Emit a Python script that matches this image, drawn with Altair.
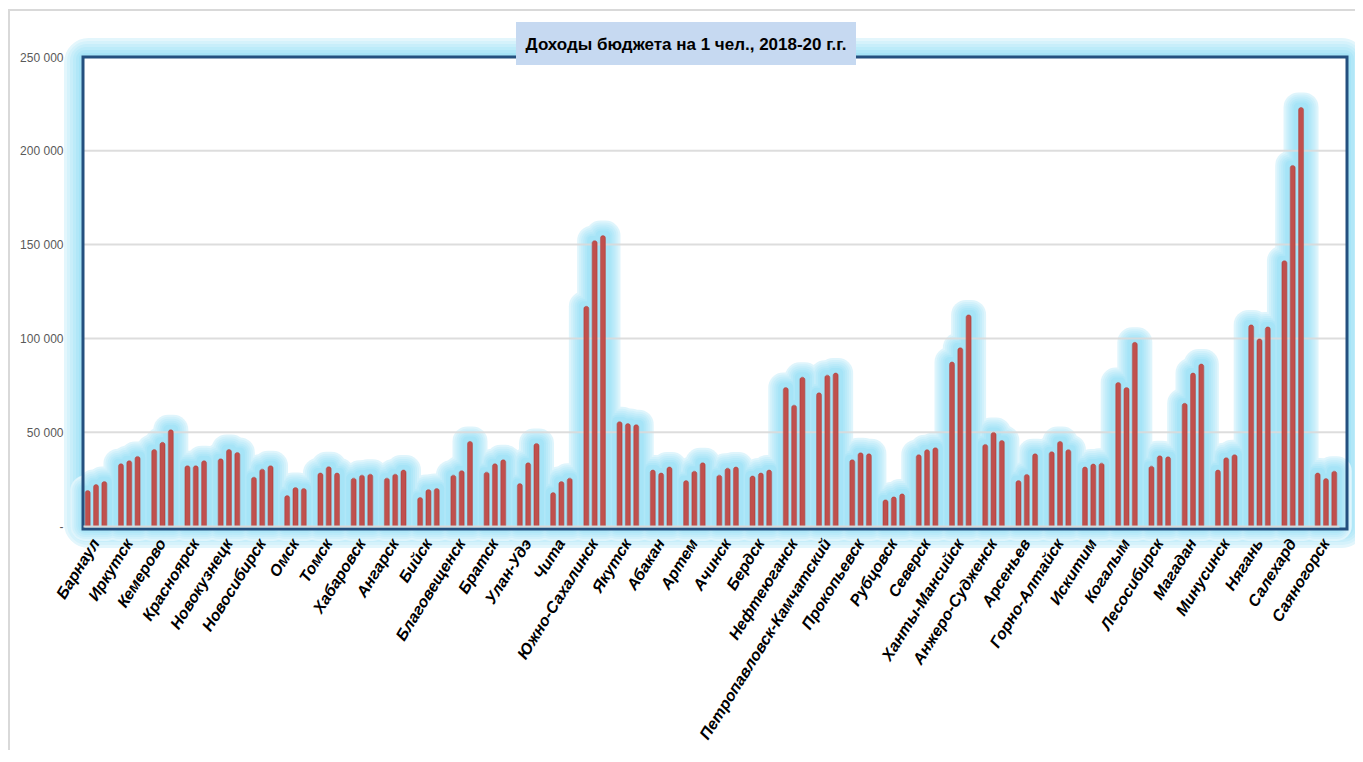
import altair as alt
import pandas as pd

cities = ["Барнаул", "Иркутск", "Кемерово", "Красноярск", "Новокузнецк", "Новосибирск",
          "Омск", "Томск", "Хабаровск", "Ангарск", "Бийск", "Благовещенск", "Братск",
          "Улан-Удэ", "Чита", "Южно-Сахалинск", "Якутск", "Абакан", "Артем", "Ачинск",
          "Бердск", "Нефтеюганск", "Петропавловск-Камчатский", "Прокопьевск", "Рубцовск",
          "Северск", "Ханты-Мансийск", "Анжеро-Судженск", "Арсеньев", "Горно-Алтайск",
          "Искитим", "Когалым", "Лесосибирск", "Магадан", "Минусинск", "Нягань",
          "Салехард", "Саяногорск"]
years = ["2018", "2019", "2020"]
v2018 = [18900, 33200, 40800, 32100, 35800, 26000, 16200, 28200, 25500, 25500, 15200,
         27100, 28700, 22600, 17800, 117100, 55600, 29800, 24200, 27100, 26600, 73800,
         71000, 35300, 13900, 38000, 87400, 43500, 24200, 39600, 31400, 76500, 31900,
         65400, 29800, 107200, 141400, 28200]
v2019 = [22100, 34800, 44600, 32100, 40800, 30300, 20500, 31600, 27100, 27600, 19400,
         29500, 33200, 33700, 23700, 152100, 54600, 28200, 29200, 30800, 28200, 64400,
         80400, 39000, 15500, 40700, 95000, 49900, 27500, 45100, 33000, 73800, 37400,
         81500, 36400, 99700, 192200, 25300]
v2020 = [23700, 37100, 51300, 34800, 39200, 32100, 20000, 28200, 27600, 29800, 20000,
         45100, 35300, 44000, 25500, 154800, 54000, 31400, 33700, 31400, 29800, 79300,
         81500, 38500, 17100, 41700, 112500, 45600, 38500, 40700, 33500, 97900, 36900,
         86300, 38000, 106100, 223100, 29200]
y_ticks = [0, 50000, 100000, 150000, 200000, 250000]
grid_values = [50000, 100000, 150000, 200000]
title_text = "Доходы бюджета на 1 чел., 2018-20 г.г."

rows = []
for i, c in enumerate(cities):
    for yr, arr in zip(years, [v2018, v2019, v2020]):
        rows.append({"city": c, "year": yr, "value": arr[i]})
df = pd.DataFrame(rows)
one = pd.DataFrame({"k": [0]})
grid_df = pd.DataFrame({"value": grid_values})

W, H = 1264, 469
FONT = "Liberation Sans"


def mix(t):
    # t=0 -> near white, t=1 -> saturated glow blue
    a = (246, 252, 254)
    b = (166, 228, 247)
    return "#%02X%02X%02X" % tuple(int(round(a[i] + (b[i] - a[i]) * t)) for i in range(3))


x_enc = alt.X("city:N", sort=cities,
              scale=alt.Scale(range=[0, 1256], paddingInner=0.25, paddingOuter=0.017),
              axis=alt.Axis(title=None, labelAngle=-58, labelFont=FONT, labelFontSize=16,
                            labelFontWeight="bold", labelFontStyle="italic",
                            labelColor="#000000", ticks=False, domainColor="#D9D9D9",
                            domainWidth=2, labelPadding=14, labelOverlap=False,
                            labelLimit=400, zindex=1))
xo_enc = alt.XOffset("year:N", scale=alt.Scale(paddingInner=0.4, paddingOuter=0.2))
y_enc = alt.Y("value:Q", scale=alt.Scale(domain=[0, 250000], nice=False),
              axis=alt.Axis(title=None, values=y_ticks, grid=False, domain=False,
                            ticks=False, labelPadding=20, labelFont=FONT,
                            labelFontSize=12, labelColor="#595959", zindex=1,
                            labelExpr="datum.value == 0 ? '-' : replace(format(datum.value, ','), ',', ' ')"))

layers = []

# frame glow (outside the plot frame), soft gradient
frame_steps = [19, 16, 13, 10, 7, 4]
for j, k in enumerate(frame_steps):
    t = (j + 1) / len(frame_steps)
    col = mix(t ** 0.8)
    layers.append(
        alt.Chart(one).mark_rect(fill="transparent", stroke=col, strokeWidth=k,
                                 cornerRadius=k * 0.8).encode(
            x=alt.value(-k / 2), x2=alt.value(W + k / 2),
            y=alt.value(-k / 2), y2=alt.value(H + 3 + k / 2))
    )

base = alt.Chart(df).encode(x=x_enc, xOffset=xo_enc, y=y_enc)

# soft glow around bars
bar_steps = [30, 26, 22, 18, 14, 10]
for j, sw in enumerate(bar_steps):
    t = (j + 1) / len(bar_steps)
    col = mix(t ** 0.7)
    layers.append(base.mark_bar(color=col, stroke=col, strokeWidth=sw,
                                strokeJoin="round"))

# gridlines
layers.append(
    alt.Chart(grid_df).mark_rule(color="#D9D9D9", strokeWidth=2, opacity=0.9).encode(
        y=alt.Y("value:Q"), x=alt.value(0), x2=alt.value(W))
)

# bars
layers.append(base.mark_bar(color="#C0504D", cornerRadiusTopLeft=2.5,
                            cornerRadiusTopRight=2.5, stroke="#B3413E",
                            strokeWidth=0.6))

# frame
layers.append(
    alt.Chart(one).mark_rect(fill="transparent", stroke="#24507F", strokeWidth=3).encode(
        x=alt.value(0), x2=alt.value(W), y=alt.value(0), y2=alt.value(H + 3))
)

# chart-area border lines
layers.append(
    alt.Chart(one).mark_rule(color="#D9D9D9", strokeWidth=2).encode(
        x=alt.value(-76), x2=alt.value(W + 10), y=alt.value(-47))
)
layers.append(
    alt.Chart(one).mark_rule(color="#D9D9D9", strokeWidth=2).encode(
        x=alt.value(-74), y=alt.value(-47), y2=alt.value(H + 240))
)

# title box + title
layers.append(
    alt.Chart(one).mark_rect(fill="#C6D9F1").encode(
        x=alt.value(433), x2=alt.value(773), y=alt.value(-35), y2=alt.value(8))
)
layers.append(
    alt.Chart(one).mark_text(text=title_text, font=FONT, fontSize=17, fontWeight="bold",
                             color="#000000", align="center", baseline="middle").encode(
        x=alt.value(603), y=alt.value(-12))
)

chart = alt.layer(*layers).properties(
    width=W, height=H,
    autosize=alt.AutoSizeParams(type="none"),
    padding={"left": 75, "top": 49, "right": 8, "bottom": 224},
    background="#FFFFFF",
).configure_view(stroke=None)

chart.save("out.html", embed_options={"renderer": "svg", "actions": False})
